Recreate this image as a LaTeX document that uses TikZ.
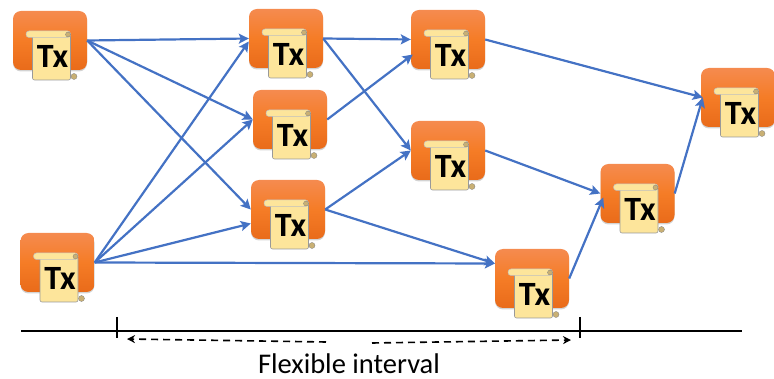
\documentclass[tikz,border=0pt]{standalone}
\usepackage{fontspec}
\setmainfont{Carlito}
\usetikzlibrary{arrows.meta,shadows}

\definecolor{txtop}{HTML}{F58B4F}
\definecolor{txmid}{HTML}{F57C26}
\definecolor{txbottom}{HTML}{E96B1A}
\definecolor{txpaper}{HTML}{FDE59B}
\definecolor{txcurl}{HTML}{C9B074}
\definecolor{txlink}{HTML}{4472C4}

\tikzset{
	txbox/.style={rounded corners=8pt, minimum width=74pt, minimum height=59pt, inner sep=0pt, top color=txtop, bottom color=txbottom, middle color=txmid, drop shadow={opacity=.35, shadow xshift=0pt, shadow yshift=-1.5pt}},
	txlabel/.style={font=\fontsize{34}{34}\selectfont\bfseries, inner sep=0pt, text=black},
	link/.style={draw=txlink, line width=2.2pt, -{Stealth[length=10pt, width=10pt, inset=2pt]}},
	timeline/.style={line width=1.2pt},
	flexarrow/.style={line width=1.6pt, dash pattern=on 7pt off 5pt, -{Stealth[length=8pt, width=8pt]}},
	txscroll/.pic={
		\filldraw [fill=txcurl, draw=gray, line width=.3pt] (24,36) circle (3);
		\filldraw [fill=txpaper, draw=gray!80, line width=.6pt, rounded corners=2pt] (-17.5,-6) rectangle (20.5,39.5);
		\filldraw [fill=txpaper, draw=gray!50, line width=.5pt, rounded corners=3pt] (-24,-9.5) rectangle (20.5,-3);
		\filldraw [fill=txcurl, draw=gray, line width=.3pt] (18,-6) circle (2.5);
		\node [txlabel] (-text) at (2.5,15.5) {Tx};
	}
}

\begin{document}
\begin{tikzpicture}[x=1pt, y=-1pt]
	\useasboundingbox (0,0) rectangle (774,379);

	% the transactions
	\node [txbox] (a) at ( 50, 40.5) {};
	\node [txbox] (b) at ( 57.5,262.5) {};
	\node [txbox] (c) at (286, 38.5) {};
	\node [txbox] (d) at (290,119.5) {};
	\node [txbox] (e) at (288,209.5) {};
	\node [txbox] (f) at (448, 39.5) {};
	\node [txbox] (g) at (448,150.5) {};
	\node [txbox] (h) at (532,278.5) {};
	\node [txbox] (i) at (637.5,193.5) {};
	\node [txbox] (j) at (738, 97.5) {};

	\pic (sa) at (a) {txscroll};
	\pic (sb) at (b) {txscroll};
	\pic (sc) at (c) {txscroll};
	\pic (sd) at (d) {txscroll};
	\pic (se) at (e) {txscroll};
	\pic (sf) at (f) {txscroll};
	\pic (sg) at (g) {txscroll};
	\pic (sh) at (h) {txscroll};
	\pic (si) at (i) {txscroll};
	\pic (sj) at (j) {txscroll};

	% the links
	\draw [link] (a.east) -- (c.west);
	\draw [link] (a.east) -- (d.west);
	\draw [link] (a.east) -- (e.west);
	\draw [link] (b.east) -- ([yshift=-3pt]c.west);
	\draw [link] (b.east) -- (d.west);
	\draw [link] (b.east) -- ([yshift=-14pt]e.west);
	\draw [link] (b.east) -- ([yshift=15pt]h.west);
	\draw [link] (c.east) -- (f.west);
	\draw [link] (c.east) -- (g.west);
	\draw [link] (d.east) -- ([xshift=2pt, yshift=-15pt]f.west);
	\draw [link] (e.east) -- (g.west);
	\draw [link] (e.east) -- ([yshift=15pt]h.west);
	\draw [link] (f.east) -- ([xshift=2pt]j.west);
	\draw [link] (g.east) -- (i.west);
	\draw [link] (h.east) -- ([xshift=3pt, yshift=-4pt]i.west);
	\draw [link] (i.east) -- ([xshift=2pt]j.west);

	% the time line
	\coordinate (lineleft) at (21,331);
	\coordinate (lineright) at (742,331);
	\coordinate (tickatop) at (117,317);
	\coordinate (tickabottom) at (117,338);
	\coordinate (tickbtop) at (580,317);
	\coordinate (tickbbottom) at (580,338);
	\coordinate (gapleft) at (326,342);
	\coordinate (arrowleft) at (127,339);
	\coordinate (gapright) at (372,343);
	\coordinate (arrowright) at (571,340);

	\draw [timeline] (lineleft) -- (lineright);
	\draw [timeline] (tickatop) -- (tickabottom);
	\draw [timeline] (tickbtop) -- (tickbbottom);
	\draw [flexarrow] (gapleft) -- (arrowleft);
	\draw [flexarrow] (gapright) -- (arrowright);

	\node [font=\fontsize{28.5}{28.5}\selectfont, inner sep=0pt] (caption) at (349,363.5) {Flexible interval};
\end{tikzpicture}
\end{document}
